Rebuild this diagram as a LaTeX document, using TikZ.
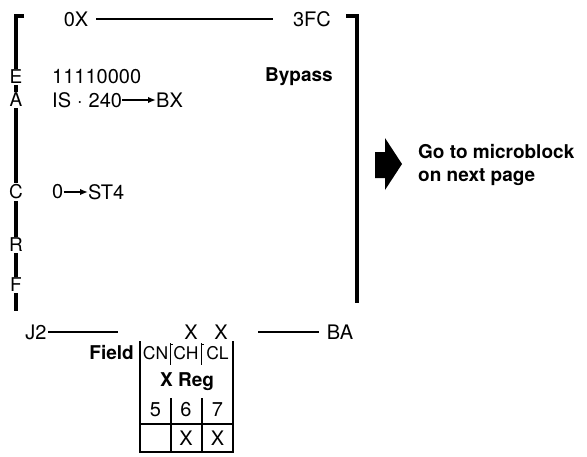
\documentclass[tikz,border=0pt]{standalone}
\usepackage{fontspec}
\setmainfont{TeX Gyre Heros}
\usetikzlibrary{arrows.meta}
\tikzset{
  txt/.style={inner sep=0pt, font=\fontsize{20}{23}\selectfont},
  stxt/.style={inner sep=0pt, font=\fontsize{17.5}{20}\selectfont},
  btxt/.style={inner sep=0pt, font=\fontsize{19}{23}\selectfont\bfseries},
  vlet/.style={inner sep=1.5pt, fill=white, font=\fontsize{19}{22}\selectfont},
  brk/.style={line width=3.2pt},
  hln/.style={line width=2.4pt},
  tbl/.style={line width=1.6pt},
  sep/.style={line width=0.8pt},
  ptr/.style={line width=1.8pt, -{Latex[length=8pt,width=6.5pt]}}
}
\begin{document}
\begin{tikzpicture}[x=1pt,y=-1pt]
\useasboundingbox (0,0) rectangle (587,456);
% left bracket
\coordinate (lt) at (16,16);
\coordinate (lh) at (24,16);
\coordinate (lb) at (16,311);
\draw[brk] (lh) -- (lt) -- (lb);
\node[vlet] (E) at (16,77) {E};
\node[vlet] (A) at (16,100) {A};
\node[vlet] (C) at (16,192) {C};
\node[vlet] (R) at (16,245) {R};
\node[vlet] (F) at (16,285) {F};
% right bracket
\coordinate (rh) at (346,16);
\coordinate (rt) at (357,16);
\coordinate (rb) at (357,303);
\draw[brk] (rh) -- (rt) -- (rb);
% top line
\node[txt] (ox) at (76,19) {0X};
\node[txt] (fc) at (312,19) {3FC};
\draw[hln] ([xshift=8pt]ox.east) -- ([xshift=-20pt]fc.west);
% body text
\node[txt, anchor=west] (bits) at (52,77) {11110000};
\node[btxt, anchor=west] (byp) at (265,77) {Bypass};
\node[txt, anchor=west] (is) at (52,100) {IS\hspace{6pt}·\hspace{6pt}240};
\node[txt, anchor=west] (bx) at (156,100) {BX};
\draw[ptr] (is.east) -- (bx.west);
\node[txt, anchor=west] (zero) at (52,192) {0};
\node[txt, anchor=west] (st) at (88,192) {ST4};
\draw[ptr] (zero.east) -- (st.west);
% big arrow
\fill (375,152) -- (385,152) -- (385,138) -- (402,164) -- (385,190) -- (385,178) -- (375,178) -- cycle;
\node[btxt, anchor=north west, align=left] (go) at (418,144) {Go to microblock\\on next page};
% bottom line
\node[txt] (j2) at (36,332) {J2};
\coordinate (j2e) at (118,332);
\draw[hln] ([xshift=1pt]j2.east) -- (j2e);
\node[txt] (x1) at (191,332) {X};
\node[txt] (x2) at (221,332) {X};
\node[txt] (ba) at (340,332) {BA};
\coordinate (bas) at (258,332);
\draw[hln] (bas) -- ([xshift=-8pt]ba.west);
% table
\coordinate (t1) at (140,341);
\coordinate (t2) at (140,452);
\coordinate (t3) at (233,452);
\coordinate (t4) at (233,341);
\draw[tbl] (t1) -- (t2) -- (t3) -- (t4);
\draw[tbl] (140,424) -- (233,424);
\draw[tbl] (171,398) -- (171,452);
\draw[tbl] (202,398) -- (202,452);
\draw[sep] (170,343) -- (170,365);
\draw[sep] (170,344) -- (173,344);
\draw[sep] (201,343) -- (201,365);
\draw[sep] (201,344) -- (204,344);
\node[btxt, anchor=east] (fld) at (134,353) {Field};
\node[stxt] (cn) at (155.5,353) {CN};
\node[stxt] (ch) at (186,353) {CH};
\node[stxt] (cl) at (217.5,353) {CL};
\node[btxt] (xreg) at (187,382) {X Reg};
\node[txt] (n5) at (155.5,410) {5};
\node[txt] (n6) at (186,410) {6};
\node[txt] (n7) at (217.5,410) {7};
\node[txt] (b6) at (186,438) {X};
\node[txt] (b7) at (217.5,438) {X};
\end{tikzpicture}
\end{document}
